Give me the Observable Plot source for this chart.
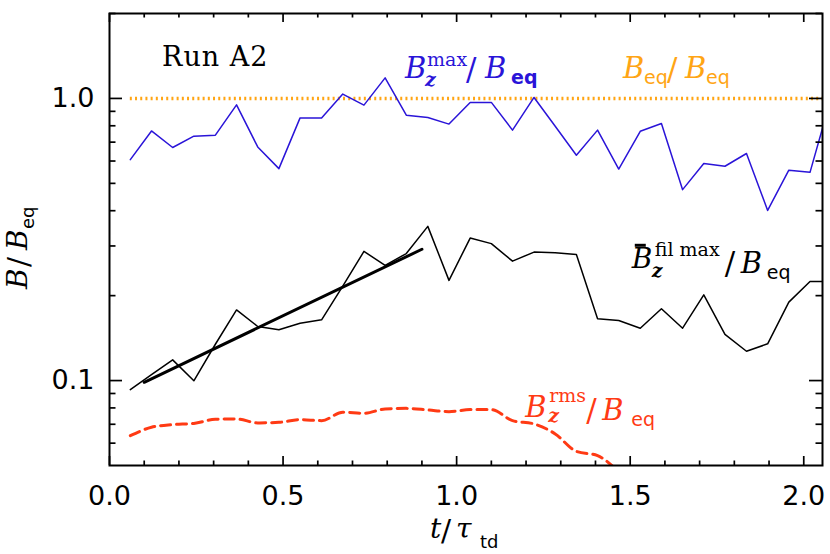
<!DOCTYPE html>
<html><head><meta charset="utf-8">
<script src="https://cdn.jsdelivr.net/npm/d3@7"></script>
<script src="https://cdn.jsdelivr.net/npm/@observablehq/plot@0.6"></script>
<style>body{margin:0;background:#fff} svg{display:block}</style>
</head><body><div id="chart"></div>
<script>
// ---- data ----
const times = [0.060, 0.121, 0.182, 0.243, 0.305, 0.366, 0.427, 0.488, 0.549, 0.611, 0.672, 0.733, 0.794, 0.855, 0.917, 0.978, 1.039, 1.100, 1.161, 1.223, 1.284, 1.345, 1.406, 1.467, 1.529, 1.590, 1.651, 1.712, 1.773, 1.835, 1.896, 1.957, 2.018, 2.079];
const bzMax = [0.607, 0.767, 0.670, 0.735, 0.741, 0.949, 0.673, 0.564, 0.853, 0.853, 1.036, 0.947, 1.183, 0.872, 0.856, 0.811, 0.968, 0.968, 0.772, 1.008, 0.797, 0.629, 0.772, 0.562, 0.765, 0.815, 0.475, 0.588, 0.575, 0.638, 0.401, 0.557, 0.547, 1.008];
const bzFilMax = [0.0929, 0.105, 0.1184, 0.0998, 0.1345, 0.178, 0.1555, 0.1513, 0.1597, 0.1642, 0.216, 0.287, 0.256, 0.282, 0.352, 0.2265, 0.320, 0.3057, 0.265, 0.2854, 0.284, 0.280, 0.1656, 0.1633, 0.1533, 0.1797, 0.1533, 0.2014, 0.1457, 0.127, 0.135, 0.1897, 0.2246, 0.2246];
const bzRms = [0.0638, 0.0683, 0.0698, 0.0705, 0.0729, 0.0731, 0.0708, 0.0711, 0.0727, 0.0721, 0.0772, 0.0766, 0.0793, 0.0797, 0.0787, 0.0776, 0.0789, 0.0789, 0.0721, 0.0702, 0.0647, 0.0561, 0.0542, 0.0474];
const eqLevel = [1.0];
const fitTimes = [0.1, 0.9];
const fitValues = [0.0986, 0.292];

const xMajor = [0, 0.5, 1.0, 1.5, 2.0];
const xMinor = [0.1, 0.2, 0.3, 0.4, 0.6, 0.7, 0.8, 0.9, 1.1, 1.2, 1.3, 1.4, 1.6, 1.7, 1.8, 1.9];
const yMajor = [0.1, 1.0];
const yMinor = [0.06, 0.07, 0.08, 0.09, 0.2, 0.3, 0.4, 0.5, 0.6, 0.7, 0.8, 0.9, 2.0];

// annotation anchors (data coordinates)
const runLabel = {text: "Run A2", t: 0.153, v: 1.295};
const blueAnchor = {t: 0.853, v: 1.18};
const orangeAnchor = {t: 1.481, v: 1.18};
const blackAnchor = {t: 1.506, v: 0.249};
const redAnchor = {t: 1.199, v: 0.0741};

const BLUE = "#2a14d8", ORANGE = "#ffa514", RED = "#ff3a14", BLACK = "#000";
const SERIF = "DejaVu Serif", SANS = "DejaVu Sans";

const blueRows = times.map((t, i) => ({t, v: bzMax[i]}));
const blackRows = times.map((t, i) => ({t, v: bzFilMax[i]}));
const redRows = bzRms.map((v, i) => ({t: times[i], v}));
const fitRows = fitTimes.map((t, i) => ({t, v: fitValues[i]}));

const W = 830, H = 554, mL = 109, mR = 8, mT = 13, mB = 89;
const fw = W - mL - mR, fh = H - mT - mB;

const chart = Plot.plot({
  width: W, height: H,
  marginLeft: mL, marginRight: mR, marginTop: mT, marginBottom: mB,
  style: {fontFamily: SANS, fontSize: "27px", color: "black", background: "white", overflow: "visible"},
  x: {domain: [0, 2.054], label: null},
  y: {type: "log", domain: [0.05, 2.0], label: null},
  marks: [
    Plot.ruleY(eqLevel, {y: d => d, x1: times[0], x2: times[times.length - 1], stroke: ORANGE, strokeWidth: 3.5, strokeDasharray: "2,3.2", clip: true}),
    Plot.line(blueRows, {x: "t", y: "v", stroke: BLUE, strokeWidth: 1.5, clip: true}),
    Plot.line(blackRows, {x: "t", y: "v", stroke: BLACK, strokeWidth: 1.5, clip: true}),
    Plot.line(fitRows, {x: "t", y: "v", stroke: BLACK, strokeWidth: 3, clip: true}),
    Plot.line(redRows, {x: "t", y: "v", stroke: RED, strokeWidth: 3, strokeDasharray: "10,6", curve: "monotone-x", clip: true}),
    // inward ticks, mirrored on all sides
    Plot.tickX(xMajor, {x: d => d, insetTop: fh - 9, stroke: "black", strokeWidth: 1.7}),
    Plot.tickX(xMajor, {x: d => d, insetBottom: fh - 9, stroke: "black", strokeWidth: 1.7}),
    Plot.tickX(xMinor, {x: d => d, insetTop: fh - 4.5, stroke: "black", strokeWidth: 1.7}),
    Plot.tickX(xMinor, {x: d => d, insetBottom: fh - 4.5, stroke: "black", strokeWidth: 1.7}),
    Plot.tickY(yMajor, {y: d => d, insetRight: fw - 13, stroke: "black", strokeWidth: 1.7}),
    Plot.tickY(yMajor, {y: d => d, insetLeft: fw - 13, stroke: "black", strokeWidth: 1.7}),
    Plot.tickY(yMinor, {y: d => d, insetRight: fw - 6.5, stroke: "black", strokeWidth: 1.7}),
    Plot.tickY(yMinor, {y: d => d, insetLeft: fw - 6.5, stroke: "black", strokeWidth: 1.7}),
    Plot.axisX({ticks: xMajor, tickSize: 0, tickPadding: 20, tickFormat: d3.format(".1f"), label: null, fontSize: 27}),
    Plot.axisY({ticks: yMajor, tickSize: 0, tickPadding: 15, tickFormat: d3.format(".1f"), label: null, fontSize: 27}),
    Plot.frame({stroke: "black", strokeWidth: 2})
  ]
});
document.getElementById("chart").appendChild(chart);

const svg = d3.select(chart);
const xs = chart.scale("x"), ys = chart.scale("y");

function drawPieces(g, pieces, color) {
  g.attr("text-anchor", "start");
  for (const p of pieces) {
    if (p.bar) {
      g.append("line").attr("x1", p.dx).attr("x2", p.dx + p.w).attr("y1", p.dy).attr("y2", p.dy)
        .attr("stroke", color).attr("stroke-width", 3);
      continue;
    }
    const el = g.append("text").attr("x", p.dx).attr("y", p.dy || 0)
      .attr("text-anchor", "start")
      .attr("fill", color)
      .attr("font-family", p.f).attr("font-size", p.s)
      .attr("font-style", p.i ? "italic" : "normal")
      .attr("font-weight", p.b ? "bold" : "normal")
      .text(p.t);
    if (p.ls) el.attr("letter-spacing", p.ls);
  }
}
function labelAt(anchor, color, pieces) {
  const g = svg.append("g").attr("transform", `translate(${xs.apply(anchor.t)},${ys.apply(anchor.v)})`);
  drawPieces(g, pieces, color);
}

// Run A2
labelAt(runLabel, BLACK, [{t: runLabel.text, f: SERIF, s: 27, dx: 0, dy: 0, ls: 1}]);

// B_z^max / B_eq
labelAt(blueAnchor, BLUE, [
  {t: "B", f: SERIF, s: 29, i: true, dx: 0},
  {t: "max", f: SERIF, s: 19, dx: 22, dy: -11.5},
  {t: "z", f: SERIF, s: 19, i: true, b: true, dx: 20, dy: 8},
  {t: "/", f: SERIF, s: 31, dx: 61, dy: 2},
  {t: "B", f: SERIF, s: 29, i: true, dx: 80},
  {t: "eq", f: SANS, s: 19, b: true, dx: 106, dy: 6}
]);
// B_eq / B_eq
labelAt(orangeAnchor, ORANGE, [
  {t: "B", f: SERIF, s: 29, i: true, dx: 0},
  {t: "eq", f: SANS, s: 19, dx: 21, dy: 6},
  {t: "/", f: SERIF, s: 31, dx: 44, dy: 2},
  {t: "B", f: SERIF, s: 29, i: true, dx: 62},
  {t: "eq", f: SANS, s: 19, dx: 83, dy: 6}
]);
// overbar B_z^{fil max} / B_eq
labelAt(blackAnchor, BLACK, [
  {bar: true, dx: 3, w: 11, dy: -23},
  {t: "B", f: SERIF, s: 28, i: true, dx: 0},
  {t: "fil max", f: SERIF, s: 19, dx: 23, dy: -12},
  {t: "z", f: SERIF, s: 19, i: true, b: true, dx: 20, dy: 9},
  {t: "/", f: SERIF, s: 31, dx: 93, dy: 6},
  {t: "B", f: SERIF, s: 29, i: true, dx: 109, dy: 5},
  {t: "eq", f: SANS, s: 19, dx: 135, dy: 11}
]);
// B_z^rms / B_eq
labelAt(redAnchor, RED, [
  {t: "B", f: SERIF, s: 29, i: true, dx: 0},
  {t: "rms", f: SERIF, s: 19, dx: 24, dy: -15},
  {t: "z", f: SERIF, s: 19, i: true, b: true, dx: 23, dy: 5.5},
  {t: "/", f: SERIF, s: 31, dx: 61, dy: 4},
  {t: "B", f: SERIF, s: 29, i: true, dx: 77, dy: 3},
  {t: "eq", f: SANS, s: 19, dx: 106, dy: 9}
]);

// axis titles
const xTitle = svg.append("g").attr("transform", `translate(430,538)`);
drawPieces(xTitle, [
  {t: "t", f: SERIF, s: 28, i: true, dx: 0},
  {t: "/", f: SERIF, s: 30, dx: 11, dy: 3},
  {t: "τ", f: SERIF, s: 28, i: true, dx: 26},
  {t: "td", f: SANS, s: 18, dx: 50, dy: 10}
], BLACK);
const yTitle = svg.append("g").attr("transform", `translate(27,289) rotate(-90)`);
drawPieces(yTitle, [
  {t: "B", f: SERIF, s: 28, i: true, dx: 0},
  {t: "/", f: SERIF, s: 30, dx: 22, dy: 2},
  {t: "B", f: SERIF, s: 28, i: true, dx: 39},
  {t: "eq", f: SANS, s: 18, dx: 60, dy: 7}
], BLACK);
</script></body></html>
